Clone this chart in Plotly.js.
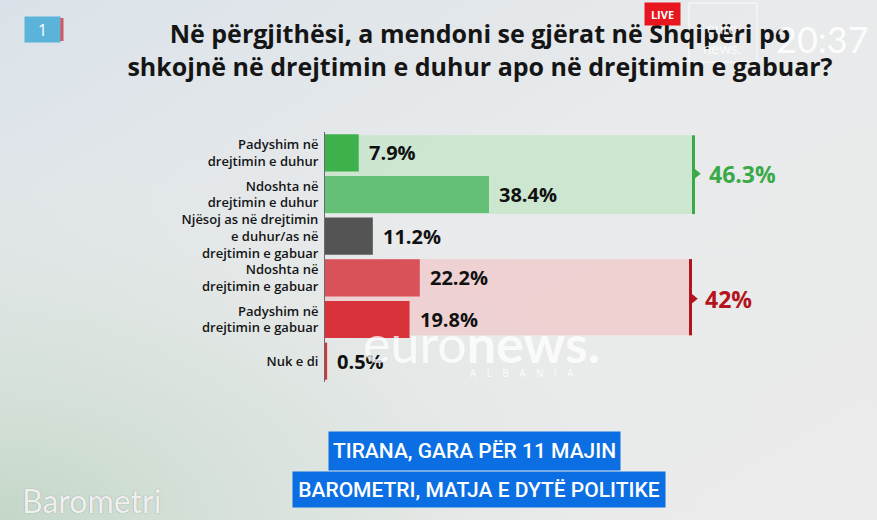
<!DOCTYPE html>
<html>
<head>
<meta charset="utf-8">
<script src="https://cdn.plot.ly/plotly-3.0.1.min.js"></script>
<style>
html,body{margin:0;padding:0;background:#e6e9e9;}
#chart{width:877px;height:520px;}
</style>
</head>
<body>
<div id="chart"></div>
<script>
// ---- data ----
var categories = [
  "Padyshim në<br>drejtimin e duhur",
  "Ndoshta në<br>drejtimin e duhur",
  "Njësoj as në drejtimin<br>e duhur/as në<br>drejtimin e gabuar",
  "Ndoshta në<br>drejtimin e gabuar",
  "Padyshim në<br>drejtimin e gabuar",
  "Nuk e di"
];
var values = [7.9, 38.4, 11.2, 22.2, 19.8, 0.5];
var groupLabels = ["46.3%", "42%"];
var titleText = "Në përgjithësi, a mendoni se gjërat në Shqipëri po<br>shkojnë në drejtimin e duhur apo në drejtimin e gabuar?";
var captionLines = ["TIRANA, GARA PËR 11 MAJIN", "BAROMETRI, MATJA E DYTË POLITIKE"];

// ---- styles ----
var barColors = ["#3db24c", "#64bf77", "#545454", "#d9525a", "#d8323b", "#d8323b"];
var greenDark = "#3aaa48", redDark = "#b3141d";

var W = 877, H = 520, L = 325, R = 52, T = 132, B = 138;
var pw = W - L - R, ph = H - T - B;
function px(x){ return (x - L) / pw; }
function py(y){ return 1 - (y - T) / ph; }

var font = "Open Sans, Noto Sans, sans-serif";
var narrow = "Roboto, Liberation Sans Narrow, sans-serif";

var bars = {
  type: "bar", orientation: "h",
  y: categories, x: values,
  marker: {color: barColors},
  hoverinfo: "skip"
};

var annotations = values.map(function(v, i){
  return {
    x: v, y: i, xref: "x", yref: "y", xanchor: "left", yanchor: "middle",
    xshift: 8, showarrow: false,
    text: "<b>" + v + "%</b>",
    font: {family: font, size: 20, color: "#111"}
  };
});
annotations.push({
  x: 89.4, y: 0.5, xref: "x", yref: "y", xanchor: "left", yanchor: "middle",
  showarrow: false, text: "<b>" + groupLabels[0] + "</b>",
  font: {family: font, size: 23, color: greenDark}
});
annotations.push({
  x: 88.6, y: 3.5, xref: "x", yref: "y", xanchor: "left", yanchor: "middle",
  showarrow: false, text: "<b>" + groupLabels[1] + "</b>",
  font: {family: font, size: 23, color: redDark}
});
// euronews watermark
annotations.push({
  x: px(481), y: py(343), xref: "paper", yref: "paper", xanchor: "center", yanchor: "middle",
  showarrow: false, text: "euro<b>news.</b>",
  font: {family: "Lato, Open Sans, sans-serif", size: 52, color: "rgba(255,255,255,0.75)"}
});
annotations.push({
  x: px(522), y: py(373), xref: "paper", yref: "paper", xanchor: "center", yanchor: "middle",
  showarrow: false, text: "A    L    B    A    N    I    A",
  font: {family: font, size: 10, color: "rgba(255,255,255,0.85)"}
});
// caption boxes
annotations.push({
  x: px(474.5), y: py(451), xref: "paper", yref: "paper", xanchor: "center", yanchor: "middle",
  showarrow: false, text: captionLines[0], bgcolor: "#0b6fe3", borderpad: 2,
  width: 287, height: 34,
  font: {family: narrow, size: 21, color: "#ffffff", weight: 500}
});
annotations.push({
  x: px(479), y: py(489), xref: "paper", yref: "paper", xanchor: "center", yanchor: "middle",
  showarrow: false, text: captionLines[1], bgcolor: "#0b6fe3", borderpad: 2,
  width: 368, height: 31,
  font: {family: narrow, size: 21, color: "#ffffff", weight: 500}
});
// TV overlays
annotations.push({
  x: px(42), y: py(29), xref: "paper", yref: "paper", xanchor: "center", yanchor: "middle",
  showarrow: false, text: "1", bgcolor: "#5bb3da", width: 31, height: 21, borderpad: 2,
  font: {family: font, size: 16, color: "#ffffff"}
});
annotations.push({
  x: px(662), y: py(14), xref: "paper", yref: "paper", xanchor: "center", yanchor: "middle",
  showarrow: false, text: "<b>LIVE</b>", bgcolor: "#e8161e", width: 31, height: 18, borderpad: 2,
  font: {family: font, size: 11, color: "#ffffff"}
});
annotations.push({
  x: px(822), y: py(39), xref: "paper", yref: "paper", xanchor: "center", yanchor: "middle",
  showarrow: false, text: "20:37",
  font: {family: "Lato, Open Sans, sans-serif", size: 36, color: "rgba(255,255,255,0.9)"}
});
annotations.push({
  x: px(722), y: py(38), xref: "paper", yref: "paper", xanchor: "center", yanchor: "middle",
  showarrow: false, text: "euro<br>news.",
  font: {family: "Lato, Open Sans, sans-serif", size: 15, color: "rgba(255,255,255,0.85)"}
});
annotations.push({
  x: px(20), y: py(500), xref: "paper", yref: "paper", xanchor: "left", yanchor: "middle",
  showarrow: false, text: "Barometri",
  font: {family: "Lato, Open Sans, sans-serif", size: 32, color: "rgba(255,255,255,0.9)", shadow: "0px 0px 1px #777"}
});

var shapes = [
  {type: "rect", xref: "x", yref: "y", x0: 0, x1: 86.2, y0: -0.42, y1: 1.47,
   fillcolor: "rgba(195,228,199,0.75)", line: {width: 0}, layer: "below"},
  {type: "rect", xref: "x", yref: "y", x0: 0, x1: 85.5, y0: 2.55, y1: 4.38,
   fillcolor: "rgba(240,200,202,0.75)", line: {width: 0}, layer: "below"},
  {type: "line", xref: "x", yref: "y", x0: 86.3, x1: 86.3, y0: -0.42, y1: 1.47,
   line: {color: greenDark, width: 3}},
  {type: "line", xref: "x", yref: "y", x0: 85.6, x1: 85.6, y0: 2.55, y1: 4.38,
   line: {color: redDark, width: 3}},
  {type: "path", xref: "x", yref: "y", path: "M 86.3 0.36 L 88.0 0.5 L 86.3 0.64 Z",
   fillcolor: greenDark, line: {width: 0}},
  {type: "path", xref: "x", yref: "y", path: "M 85.6 3.36 L 87.3 3.5 L 85.6 3.64 Z",
   fillcolor: redDark, line: {width: 0}},
  {type: "rect", xref: "paper", yref: "paper", x0: px(60), x1: px(63.5), y0: py(18), y1: py(41),
   fillcolor: "#d9555f", line: {width: 0}},
  {type: "rect", xref: "paper", yref: "paper", x0: px(689), x1: px(757), y0: py(3), y1: py(62),
   fillcolor: "rgba(0,0,0,0)", line: {width: 1, color: "rgba(255,255,255,0.8)"}}
];

var bgSvg = '<svg xmlns="http://www.w3.org/2000/svg" width="877" height="520">' +
  '<defs><linearGradient id="g" x1="0" y1="0" x2="1" y2="1">' +
  '<stop offset="0" stop-color="#dae2e9"/><stop offset="0.45" stop-color="#e8eaeb"/>' +
  '<stop offset="1" stop-color="#ebebeb"/></linearGradient>' +
  '<radialGradient id="h" cx="0" cy="1" r="0.75" gradientUnits="objectBoundingBox">' +
  '<stop offset="0" stop-color="#c3d7c8" stop-opacity="1"/><stop offset="0.5" stop-color="#d4e0d7" stop-opacity="0.6"/>' +
  '<stop offset="1" stop-color="#e6e8e7" stop-opacity="0"/></radialGradient></defs>' +
  '<rect width="877" height="520" fill="url(#g)"/>' +
  '<rect width="877" height="520" fill="url(#h)"/></svg>';

var layout = {
  width: W, height: H,
  margin: {l: L, r: R, t: T, b: B},
  paper_bgcolor: "#e6e9e9",
  plot_bgcolor: "rgba(0,0,0,0)",
  showlegend: false,
  bargap: 0.11,
  title: {
    text: "<b>" + titleText + "</b>",
    x: 480 / W, xanchor: "center", xref: "container",
    y: 1 - 43 / H, yanchor: "middle", yref: "container",
    font: {family: font, size: 25, color: "#151515"}
  },
  xaxis: {range: [0, pw / 4.27], visible: false, fixedrange: true},
  yaxis: {
    type: "category", autorange: "reversed", showline: true, linecolor: "#6a6a6a", linewidth: 1,
    ticks: "", showgrid: false, zeroline: false, ticklabelstandoff: 3,
    tickfont: {family: font, size: 13, color: "#151515", weight: 600}
  },
  shapes: shapes,
  annotations: annotations,
  images: [{
    source: "data:image/svg+xml;base64," + btoa(bgSvg),
    xref: "paper", yref: "paper", x: px(0), y: py(0), sizex: W / pw, sizey: H / ph,
    xanchor: "left", yanchor: "top", sizing: "stretch", layer: "below"
  }]
};

Plotly.newPlot("chart", [bars], layout, {displayModeBar: false, staticPlot: true});
</script>
</body>
</html>
